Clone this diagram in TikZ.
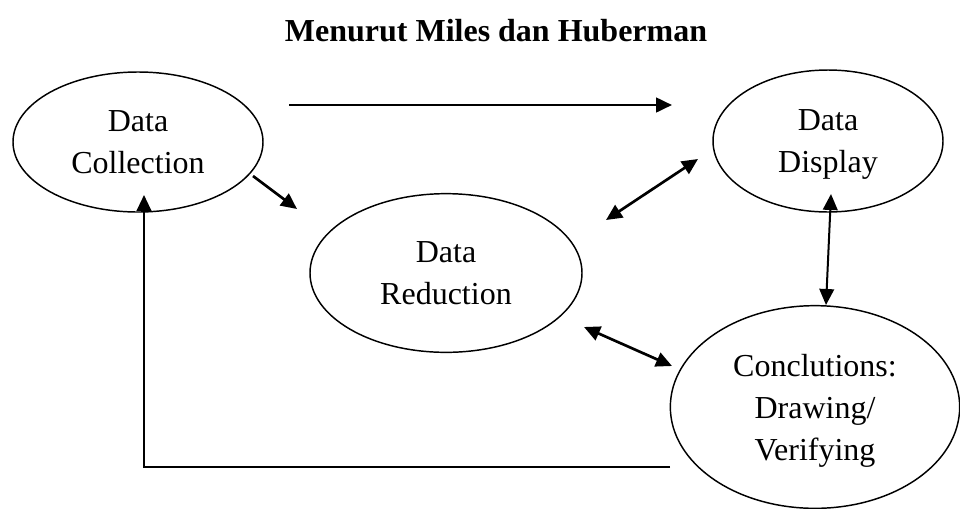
\documentclass[tikz,border=0pt]{standalone}
\usepackage{fontspec}
\setmainfont{Liberation Serif}
\usetikzlibrary{shapes.geometric,arrows.meta}

\tikzset{
  stage/.style={ellipse, draw, line width=1.1pt, inner sep=0pt, align=center,
    text depth=0pt, font=\fontsize{24pt}{31.5pt}\selectfont},
  tip/.style={Triangle[length=12pt,width=11pt]},
  flow/.style={line width=2pt, -{Triangle[length=12pt,width=11pt]}},
  twoway/.style={line width=2pt, {Triangle[length=12pt,width=11pt]}-{Triangle[length=12pt,width=11pt]}},
}

\begin{document}
\begin{tikzpicture}[x=0.75pt, y=-0.75pt]
  \useasboundingbox (0,0) rectangle (960,508);

  % title
  \node (title) at (496,31) {\fontsize{24pt}{28pt}\selectfont\bfseries Menurut Miles dan Huberman};

  % the four stages
  \node[stage, minimum width=187.5pt, minimum height=105pt] (coll) at (138,142) {Data\\Collection};
  \node[stage, minimum width=172.5pt, minimum height=106.5pt] (disp) at (828,141) {Data\\Display};
  \node[stage, minimum width=204pt, minimum height=119pt] (red) at (446,273) {Data\\Reduction};
  \node[stage, minimum width=217pt, minimum height=152pt] (conc) at (815,407) {Conclutions:\\Drawing/\\Verifying};

  % arrow end points
  \coordinate (a1) at (289,105);
  \coordinate (a2) at (672,105);
  \coordinate (b1) at (253,176);
  \coordinate (b2) at (297,209);
  \coordinate (c1) at (606,220);
  \coordinate (c2) at (698,159);
  \coordinate (d1) at (831,194);
  \coordinate (d2) at (826,305);
  \coordinate (e1) at (584,327);
  \coordinate (e2) at (672,366);
  \coordinate (f1) at (670,467);
  \coordinate (f2) at (144,467);
  \coordinate (f3) at (144,195);

  % connectors
  \draw[flow] (a1) -- (a2);
  \draw[flow] (b1) -- (b2);
  \draw[twoway] (c1) -- (c2);
  \draw[twoway, line width=1.5pt] (d1) -- (d2);
  \draw[twoway] (e1) -- (e2);
  \draw[flow, line width=1.6pt] (f1) -- (f2) -- (f3);
\end{tikzpicture}
\end{document}
